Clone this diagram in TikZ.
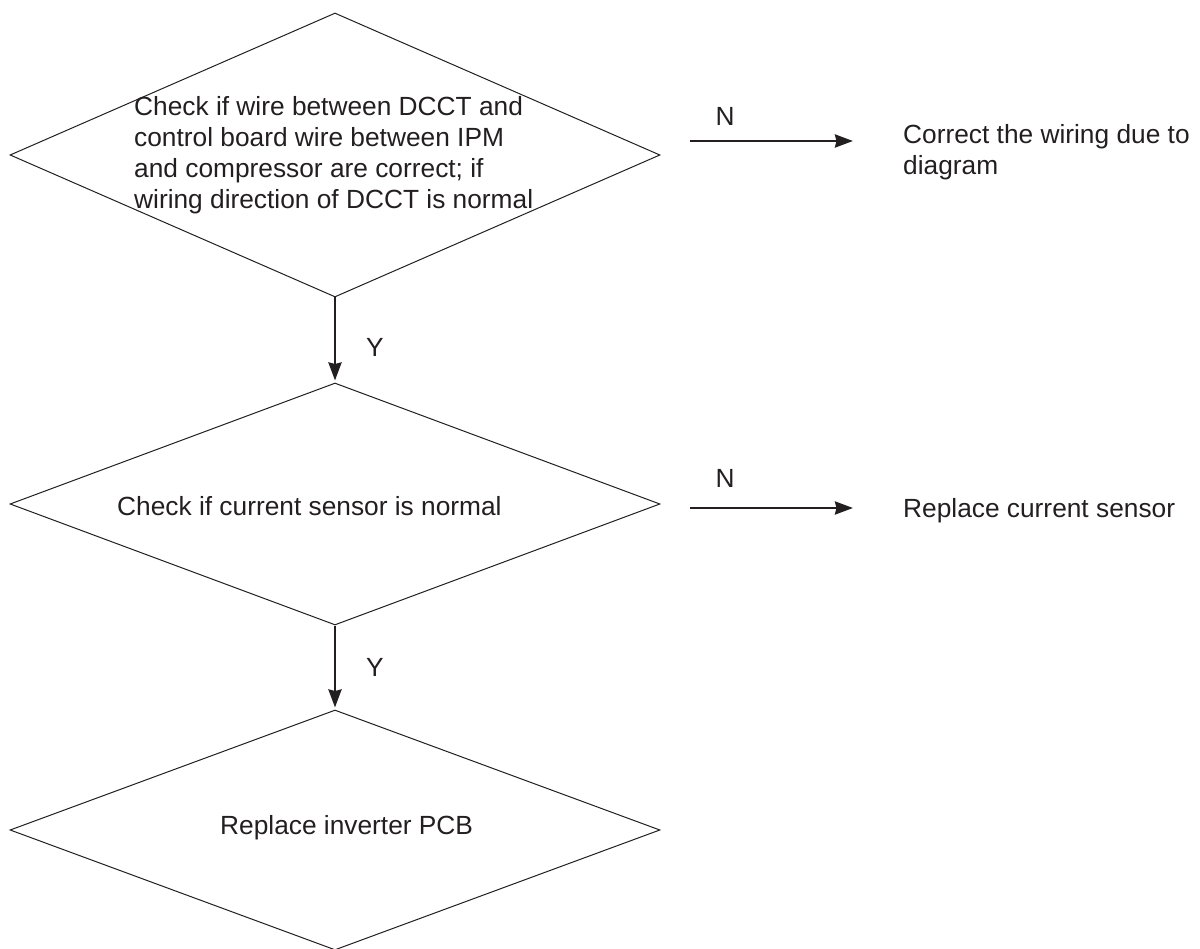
\documentclass[tikz,border=0pt]{standalone}
\usepackage{fontspec}
\setmainfont{Liberation Sans}
\usetikzlibrary{shapes.geometric,arrows.meta}
\definecolor{ink}{HTML}{231F20}
\begin{document}
\begin{tikzpicture}[x=1pt,y=-1pt,
  every node/.style={inner sep=0pt, text=ink, font=\fontsize{26.3}{31}\selectfont},
  decision/.style={diamond, draw=ink, line width=1pt, minimum width=650pt},
  flow/.style={draw=ink, line width=2.8pt, -{Stealth[length=18pt,width=13pt,inset=1.5pt]}},
]
\useasboundingbox (0,0) rectangle (1200,949);
% decision shapes
\node[decision, minimum height=284pt] (d1) at (335,155) {};
\node[decision, minimum height=242pt] (d2) at (335,504) {};
\node[decision, minimum height=240pt] (d3) at (335,830) {};
% texts inside
\node[anchor=north west, align=left] (t1) at (134,96)
  {Check if wire between DCCT and\\control board wire between IPM\\and compressor are correct; if\\wiring direction of DCCT is normal};
\node[anchor=base west] (t2) at (117,515) {Check if current sensor is normal};
\node[anchor=base west] (t3) at (220,834) {Replace inverter PCB};
% outcome texts
\node[anchor=north west, align=left] (r1) at (903,124) {Correct the wiring due to\\diagram};
\node[anchor=base west] (r2) at (903,517) {Replace current sensor};
% vertical connectors
\draw[flow, shorten >=2pt] (d1.south) -- (d2.north);
\draw[flow, shorten >=2pt] (d2.south) -- (d3.north);
\node (y1) at (375,347) {Y};
\node (y2) at (375,667) {Y};
% horizontal connectors
\coordinate (n1a) at (690,141);
\coordinate (n1b) at (853,141);
\coordinate (n2a) at (690,508);
\coordinate (n2b) at (853,508);
\draw[flow] (n1a) -- (n1b);
\draw[flow] (n2a) -- (n2b);
\node (nl1) at (725,116) {N};
\node (nl2) at (725,478) {N};
\end{tikzpicture}
\end{document}
